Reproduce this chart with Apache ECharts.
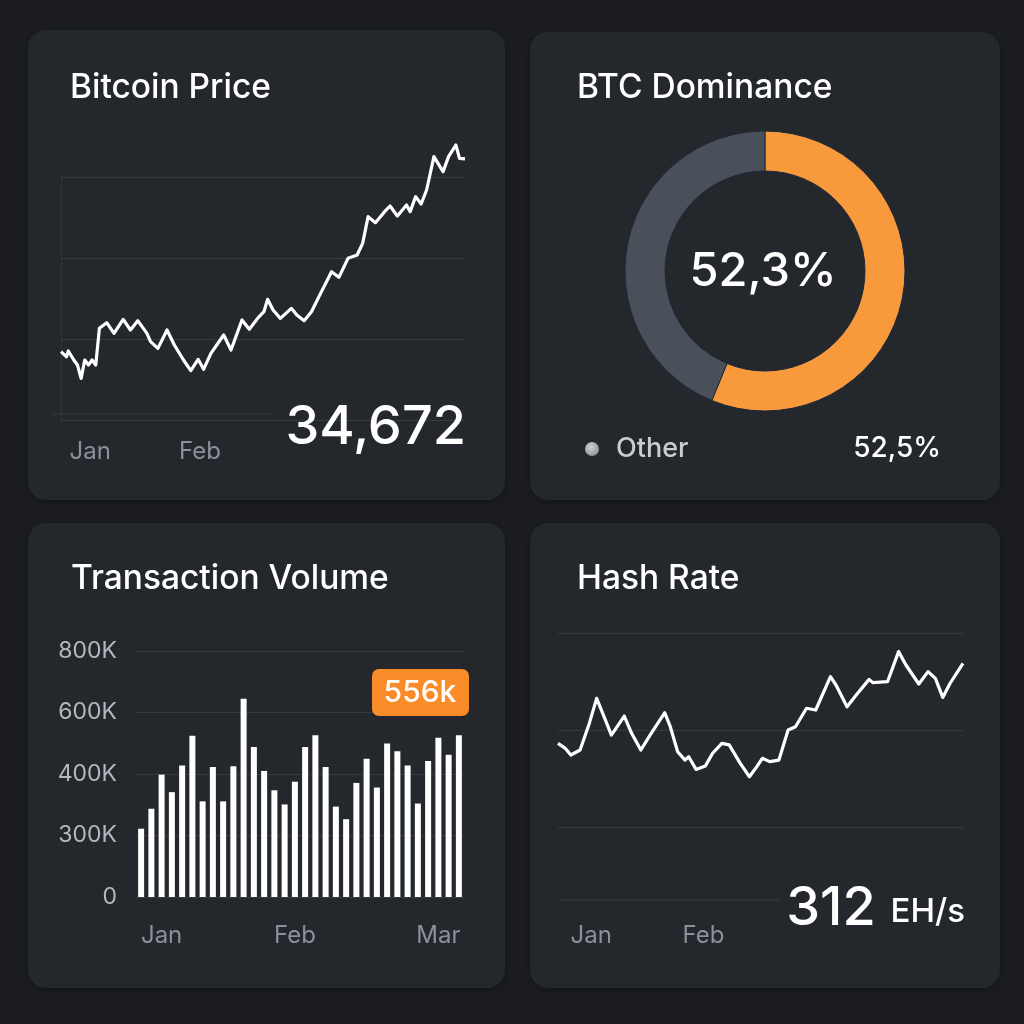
<!DOCTYPE html>
<html><head><meta charset="utf-8">
<script src="https://cdn.jsdelivr.net/npm/echarts@6/dist/echarts.min.js"></script>
<style>html,body{margin:0;padding:0;background:#1b1d21}#c{width:1024px;height:1024px}</style>
</head><body><div id="c"></div>
<script>
// ---- Bitcoin price (day offset, USD) ----
const priceDays = [0,1.5,2,3.5,4.5,5.5,6.5,7.5,8.5,9.5,10.5,12.5,14.5,17,19,21,23.5,24.5,26.5,29,31,33.5,35.5,37.5,39,41,44.5,46.5,49.5,51.5,54,55.5,56.5,58,60,63,64.5,66.5,68.5,71,74,76,78.5,81,82.5,84,86,88.5,90,92,94.5,95.5,97,98.5,100,102,104.5,106,108,109,110.5];
const priceValues = [27530,27344,27555,27222,27036,26543,27222,27036,27222,27036,28395,28604,28210,28728,28333,28679,28210,27901,27654,28333,27778,27222,26827,27247,26876,27469,28148,27593,28704,28358,28802,29012,29469,29074,28765,29136,28889,28679,29012,29691,30494,30284,30988,31111,31543,32531,32309,32716,32926,32556,32963,32716,33272,33000,33519,34753,34198,34753,35185,34691,34672];
const priceMonthTicks = [8, 38];
const priceMonthLabels = ['Jan', 'Feb'];
const priceNowText = '34,672';

// ---- BTC dominance ----
const dominanceNames = ['BTC', 'Other'];
const dominanceValues = [56.2, 43.8];
const dominanceCenterText = '52,3%';
const otherLegendName = 'Other';
const otherLegendValue = '52,5%';

// ---- Transaction volume ----
const volumeValues = [222000,287000,398000,341000,428000,524000,311000,423000,311000,425000,645000,488000,410000,347000,301000,375000,488000,526000,423000,294000,253000,371000,450000,356000,499000,474000,428000,304000,442000,518000,463000,526000];
const volumeMonthIndex = [2, 15, 29];
const volumeMonthLabels = ['Jan', 'Feb', 'Mar'];
const volumeTickLabels = ['0', '300K', '400K', '600K', '800K'];
const volumeBadgeText = '556k';

// ---- Hash rate (day offset, EH/s) ----
const hashDays = [0,2,3.5,6,8.5,10.5,12.5,14.5,18,20,22.5,25,29,30.5,32.5,34.5,35.5,37.5,40,42,44.5,46.5,49.5,52,54,55.5,57.5,60,62.5,64.5,67.5,70,74,75.5,78.5,81,84.5,85.5,89.5,92.5,94.5,98,100.5,102.5,104.5,106.5,110];
const hashValues = [293.1,290.5,287.1,289.7,303.4,316.3,306.9,297.4,307.2,298.3,289.7,297.4,308.9,301.7,288.8,284.5,286.2,279.7,281.4,288,293.1,292.3,282.8,275.9,281.1,285.4,283.7,284.5,300,301.7,311.2,310.3,327.5,323.2,312,318,326.1,324.4,324.9,340.4,333.5,323.7,330.1,326.6,316.8,324.1,334.4];
const hashMonthTicks = [9, 39.5];
const hashMonthLabels = ['Jan', 'Feb'];
const hashNowText = '312';
const hashUnitText = 'EH/s';

const FONT = 'Inter, "Noto Sans", sans-serif';
const PANEL = '#24272c';
const AXIS_LABEL = '#8b9099';
const GRIDLINE = 'rgba(255,255,255,0.09)';

const volumeCategories = volumeValues.map((v, i) => {
  const k = volumeMonthIndex.indexOf(i);
  return k >= 0 ? volumeMonthLabels[k] : '';
});

const chart = echarts.init(document.getElementById('c'), null, {renderer: 'canvas'});

function panel(x, y, w, h) {
  return {type: 'rect', z: -100, shape: {x, y, width: w, height: h, r: 18},
    style: {fill: PANEL, shadowBlur: 8, shadowColor: 'rgba(0,0,0,0.35)', shadowOffsetY: 2}};
}
function txt(text, x, y, size, fill, align, weight) {
  return {type: 'text', z: 100, style: {text, x, y, fill, textAlign: align || 'left',
    textVerticalAlign: 'middle', font: (weight || 400) + ' ' + size + 'px ' + FONT}};
}

const titleStyle = {color: '#ffffff', fontSize: 33.5, fontWeight: 500, fontFamily: FONT};

chart.setOption({
  backgroundColor: '#1b1d21',
  animation: false,
  title: [
    {text: 'Bitcoin Price', left: 70, top: 71, padding: 0, textStyle: titleStyle},
    {text: 'BTC Dominance', left: 577, top: 71, padding: 0, textStyle: titleStyle},
    {text: 'Transaction Volume', left: 71, top: 562, padding: 0, textStyle: titleStyle},
    {text: 'Hash Rate', left: 577, top: 562, padding: 0, textStyle: titleStyle}
  ],
  grid: [
    {left: 61, right: 559, top: 177, height: 243},
    {left: 136, right: 560, top: 651, height: 246},
    {left: 558, right: 61, top: 633, height: 194}
  ],
  xAxis: [
    {type: 'value', gridIndex: 0, min: 0, max: 110.5, splitLine: {show: false},
      axisLine: {show: false}, axisTick: {show: false},
      axisLabel: {customValues: priceMonthTicks, color: AXIS_LABEL, fontSize: 24, fontFamily: FONT, margin: 20,
        formatter: v => priceMonthLabels[priceMonthTicks.indexOf(v)] || ''}},
    {type: 'category', gridIndex: 1, data: volumeCategories,
      axisLine: {show: false}, axisTick: {show: false},
      axisLabel: {interval: 0, color: AXIS_LABEL, fontSize: 24, fontFamily: FONT, margin: 27}},
    {type: 'value', gridIndex: 2, min: 0, max: 110, splitLine: {show: false},
      axisLine: {show: false}, axisTick: {show: false},
      axisLabel: {customValues: hashMonthTicks, color: AXIS_LABEL, fontSize: 24, fontFamily: FONT, margin: 97,
        formatter: v => hashMonthLabels[hashMonthTicks.indexOf(v)] || ''}}
  ],
  yAxis: [
    {type: 'value', gridIndex: 0, min: 25000, max: 34000, interval: 3000,
      axisLabel: {show: false}, axisTick: {show: false},
      axisLine: {show: true, lineStyle: {color: 'rgba(255,255,255,0.06)'}},
      splitLine: {lineStyle: {color: GRIDLINE, width: 1}}},
    {type: 'value', gridIndex: 1, min: 0, max: 800000, interval: 200000,
      axisTick: {show: false}, axisLine: {show: false},
      axisLabel: {color: '#b4b8be', fontSize: 23, fontFamily: FONT, margin: 19,
        formatter: v => volumeTickLabels[Math.round(v / 200000)]},
      splitLine: {lineStyle: {color: GRIDLINE, width: 1}}},
    {type: 'value', gridIndex: 2, min: 250, max: 350, interval: 50,
      axisLabel: {show: false}, axisTick: {show: false}, axisLine: {show: false},
      splitLine: {lineStyle: {color: GRIDLINE, width: 1}}}
  ],
  series: [
    {type: 'line', xAxisIndex: 0, yAxisIndex: 0, clip: false, symbol: 'none',
      data: priceDays.map((d, i) => [d, priceValues[i]]),
      lineStyle: {color: '#ffffff', width: 3.2, join: 'round'}},
    {type: 'pie', center: [765, 271], radius: [100, 140], startAngle: 90, clockwise: true,
      label: {show: false}, labelLine: {show: false}, silent: true,
      itemStyle: {borderColor: '#1f2a3a', borderWidth: 1},
      data: dominanceNames.map((n, i) => ({name: n, value: dominanceValues[i]})),
      color: ['#f89a3c', '#4a5059']},
    {type: 'bar', xAxisIndex: 1, yAxisIndex: 1, barWidth: 6,
      data: volumeValues, itemStyle: {color: '#ffffff'}},
    {type: 'line', xAxisIndex: 2, yAxisIndex: 2, clip: false, symbol: 'none',
      data: hashDays.map((d, i) => [d, hashValues[i]]),
      lineStyle: {color: '#ffffff', width: 3.2, join: 'round'}}
  ],
  graphic: {elements: [
    panel(28, 30, 477, 470),
    panel(530, 32, 470, 468),
    panel(28, 523, 477, 465),
    panel(530, 523, 470, 465),
    {type: 'line', z: -50, shape: {x1: 53, y1: 414, x2: 273, y2: 414}, style: {stroke: GRIDLINE, lineWidth: 1}},
    {type: 'line', z: -50, shape: {x1: 560, y1: 900, x2: 780, y2: 900}, style: {stroke: GRIDLINE, lineWidth: 1}},
    txt(priceNowText, 466, 428, 54, '#ffffff', 'right', 500),
    txt(dominanceCenterText, 763, 272, 47, '#ffffff', 'center', 500),
    {type: 'circle', z: 100, shape: {cx: 592, cy: 449, r: 7},
      style: {fill: new echarts.graphic.RadialGradient(0.4, 0.35, 0.7, [{offset: 0, color: '#d0d2d5'}, {offset: 1, color: '#8d9096'}])}},
    txt(otherLegendName, 616, 449, 27, '#c9ccd1', 'left', 500),
    txt(otherLegendValue, 941, 449, 28, '#ffffff', 'right', 500),
    {type: 'rect', z: 100, shape: {x: 372, y: 669, width: 97, height: 47, r: 7}, style: {fill: '#f98b28'}},
    txt(volumeBadgeText, 420, 693, 30, '#ffffff', 'center', 500),
    txt(hashNowText, 831, 909, 54, '#ffffff', 'center', 500),
    txt(hashUnitText, 965, 912, 33, '#ffffff', 'right', 500)
  ]}
});
</script></body></html>
